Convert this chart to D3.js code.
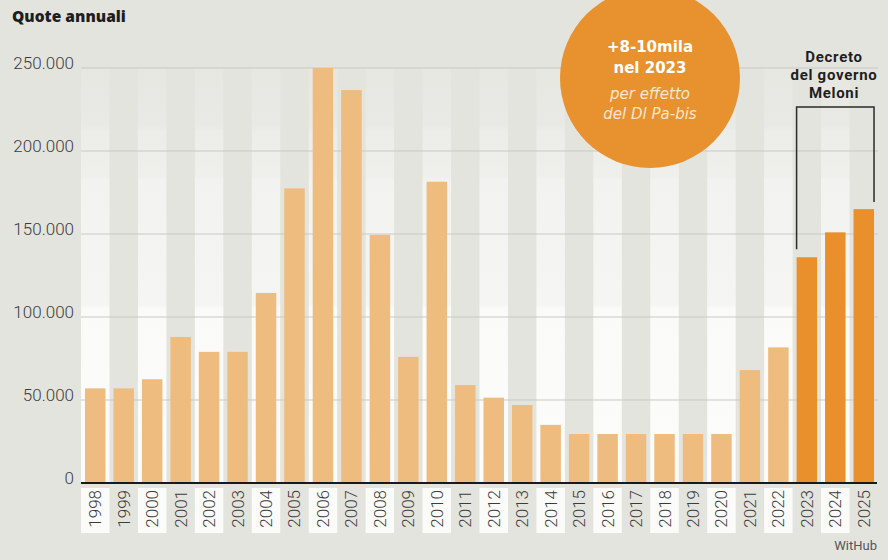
<!DOCTYPE html>
<html>
<head>
<meta charset="utf-8">
<script src="https://cdn.jsdelivr.net/npm/d3@7"></script>
<style>
  body { margin: 0; background: #e4e4de; }
  svg { display: block; font-family: Roboto, "Open Sans", sans-serif; }
</style>
</head>
<body>
<div id="container"></div>
<script>
// data
const years = ["1998","1999","2000","2001","2002","2003","2004","2005","2006","2007",
  "2008","2009","2010","2011","2012","2013","2014","2015","2016","2017",
  "2018","2019","2020","2021","2022","2023","2024","2025"]
const quote = [57000, 57000, 62500, 88000, 79000, 79000, 114500, 177500, 250000, 236700,
  149500, 76000, 181500, 59000, 51400, 47000, 35000, 29500, 29500, 29500,
  29500, 29500, 29500, 68000, 81700, 136000, 151000, 165000]
const decreeYears = ["2023", "2024", "2025"]
const yTicks = [0, 50000, 100000, 150000, 200000, 250000]
const circleLines = ["+8-10mila", "nel 2023", "per effetto", "del Dl Pa-bis"]
const bracketLines = ["Decreto", "del governo", "Meloni"]

const W = 888, H = 560
const margin = { top: 68, right: 10, bottom: 77, left: 81 }
const colors = {
    bg: "#e4e4de",
    bar: "#efbc80",
    barDark: "#e98f2b",
    circle: "#e8922f",
    grid: "#c9c9c4",
    text: "#3c3c3c"
}

const data = years.map((y, i) => ({ year: y, value: quote[i] }))

const svg = d3.select("#container")
    .append("svg")
    .attr("width", W)
    .attr("height", H)

svg.append("rect")
    .attr("width", W).attr("height", H)
    .attr("fill", colors.bg)

const x = d3.scaleBand()
    .domain(years)
    .range([margin.left, W - margin.right])
    .padding(0)

const y = d3.scaleLinear()
    .domain([0, 250000])
    .range([H - margin.bottom, margin.top])

const barW = 20.5

/* GRADIENT FOR LIGHT STRIPES */
const grad = svg.append("defs")
    .append("linearGradient")
    .attr("id", "stripe")
    .attr("gradientUnits", "userSpaceOnUse")
    .attr("x1", 0).attr("x2", 0)
    .attr("y1", y(250000)).attr("y2", y(0))
const stops = [[0, "#e7e7e2"], [0.14, "#e9e9e5"], [0.15, "#ececE8"], [0.26, "#efefec"],
    [0.27, "#f2f2f0"], [0.57, "#f5f5f3"], [0.58, "#fafaf9"], [1, "#fcfcfb"]]
stops.forEach(s => grad.append("stop").attr("offset", s[0]).attr("stop-color", s[1]))

/* STRIPES */
svg.selectAll(".stripe")
    .data(years.filter((d, i) => i % 2 === 0))
    .join("rect")
    .attr("x", d => x(d))
    .attr("width", x.bandwidth())
    .attr("y", y(250000))
    .attr("height", y(0) - y(250000))
    .attr("fill", "url(#stripe)")

/* LABEL BOXES */
svg.selectAll(".lbox")
    .data(years.filter((d, i) => i % 2 === 0))
    .join("rect")
    .attr("x", d => x(d))
    .attr("width", x.bandwidth())
    .attr("y", y(0) + 5)
    .attr("height", 45)
    .attr("fill", "#fbfbfa")

/* GRID LINES */
svg.selectAll(".grid")
    .data(yTicks.slice(1))
    .join("line")
    .attr("x1", margin.left).attr("x2", W - margin.right)
    .attr("y1", d => y(d)).attr("y2", d => y(d))
    .attr("stroke", colors.grid)
    .attr("stroke-width", 1)

/* Y LABELS */
const fmt = d3.formatLocale({ decimal: ",", thousands: ".", grouping: [3], currency: ["", "€"] }).format(",")
svg.selectAll(".ylab")
    .data(yTicks)
    .join("text")
    .attr("x", 74)
    .attr("y", d => y(d) + 1)
    .attr("text-anchor", "end")
    .attr("font-size", 17)
    .attr("font-weight", 300)
    .attr("fill", colors.text)
    .text(d => fmt(d))

/* BARS */
svg.selectAll(".bar")
    .data(data)
    .join("rect")
    .attr("x", d => x(d.year) + (x.bandwidth() - barW) / 2)
    .attr("width", barW)
    .attr("y", d => y(d.value))
    .attr("height", d => y(0) - y(d.value))
    .attr("fill", d => decreeYears.includes(d.year) ? colors.barDark : colors.bar)

/* X AXIS */
svg.append("line")
    .attr("x1", margin.left).attr("x2", W - margin.right - 1)
    .attr("y1", y(0)).attr("y2", y(0))
    .attr("stroke", "#1a1a1a")
    .attr("stroke-width", 2)

svg.selectAll(".xlab")
    .data(years)
    .join("text")
    .attr("transform", d => `translate(${x(d) + x.bandwidth() / 2 + 6}, ${y(0) + 7}) rotate(-90)`)
    .attr("text-anchor", "end")
    .attr("font-size", 17)
    .attr("font-weight", 300)
    .attr("fill", colors.text)
    .text(d => d)

/* TITLE */
svg.append("text")
    .attr("x", 12).attr("y", 22)
    .attr("font-family", "'Open Sans', sans-serif")
    .attr("font-size", 15.5)
    .attr("font-weight", 800)
    .attr("fill", "#1e1e1e")
    .text("Quote annuali")

/* CIRCLE ANNOTATION */
const cx = 650, cy = 78
svg.append("circle")
    .attr("cx", cx).attr("cy", cy).attr("r", 90)
    .attr("fill", colors.circle)

svg.selectAll(".ctext")
    .data(circleLines)
    .join("text")
    .attr("x", cx)
    .attr("y", (d, i) => [52, 73, 99, 119][i])
    .attr("text-anchor", "middle")
    .attr("font-family", "'DejaVu Sans', sans-serif")
    .attr("font-size", 15)
    .attr("font-weight", (d, i) => i < 2 ? 700 : 400)
    .attr("font-style", (d, i) => i < 2 ? "normal" : "italic")
    .attr("fill", (d, i) => i < 2 ? "#ffffff" : "#fde6cb")
    .text(d => d)

/* BRACKET */
const bx1 = x("2023") + (x.bandwidth() - barW) / 2
const bx2 = x("2025") + (x.bandwidth() + barW) / 2
const bTop = 107
svg.append("path")
    .attr("d", `M${bx1},${y(quote[years.indexOf("2023")]) - 8}V${bTop}H${bx2}V${y(quote[years.indexOf("2025")]) - 7}`)
    .attr("fill", "none")
    .attr("stroke", "#2a2a2a")
    .attr("stroke-width", 1.5)

svg.selectAll(".btext")
    .data(bracketLines)
    .join("text")
    .attr("x", 834)
    .attr("y", (d, i) => 62 + i * 18)
    .attr("text-anchor", "middle")
    .attr("font-size", 15)
    .attr("letter-spacing", 0.7)
    .attr("font-weight", 700)
    .attr("fill", "#1e1e1e")
    .text(d => d)

/* SOURCE */
svg.append("text")
    .attr("x", 877).attr("y", 550)
    .attr("text-anchor", "end")
    .attr("font-size", 13)
    .attr("fill", "#555")
    .text("WitHub")
</script>
</body>
</html>
